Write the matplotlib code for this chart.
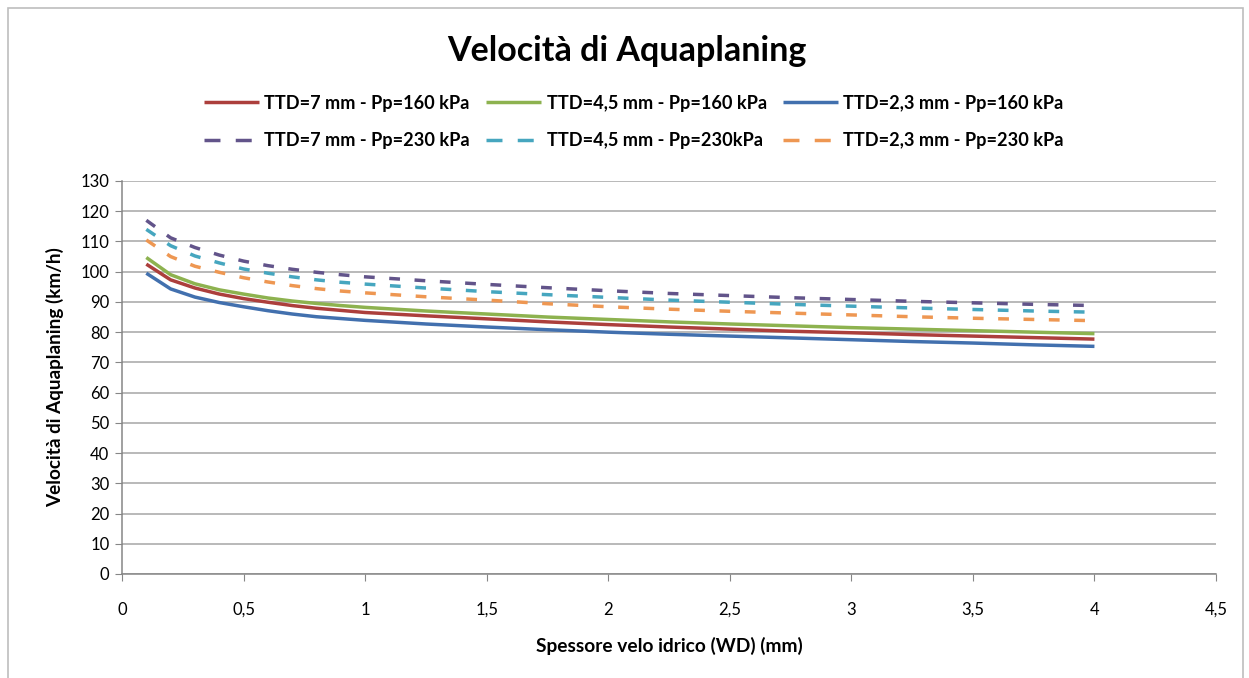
import matplotlib.pyplot as plt
from matplotlib.patches import Rectangle

plt.rcParams['font.family'] = ['Lato', 'DejaVu Sans']

# --- Data: water film thickness (mm) vs aquaplaning speed (km/h) ---
wd = [0.1, 0.2, 0.3, 0.4, 0.5, 0.6, 0.7, 0.8, 0.9, 1.0,
      1.25, 1.5, 1.75, 2.0, 2.25, 2.5, 2.75, 3.0, 3.25, 3.5, 3.75, 4.0]

v_7_160 = [102.5, 97.3, 94.6, 92.6, 91.1, 89.9, 88.8, 87.9, 87.2, 86.5,
           85.4, 84.4, 83.4, 82.5, 81.7, 81.0, 80.3, 79.8, 79.2, 78.7, 78.2, 77.7]
v_45_160 = [104.7, 99.0, 96.0, 94.0, 92.6, 91.3, 90.3, 89.5, 88.8, 88.2,
            87.0, 86.0, 85.0, 84.2, 83.4, 82.7, 82.1, 81.5, 81.0, 80.5, 80.0, 79.5]
v_23_160 = [99.5, 94.3, 91.6, 89.8, 88.4, 87.1, 86.0, 85.1, 84.5, 83.9,
            82.7, 81.7, 80.8, 80.0, 79.3, 78.7, 78.1, 77.5, 76.9, 76.4, 75.8, 75.3]
v_7_230 = [117.0, 111.2, 108.0, 105.5, 103.5, 102.0, 100.8, 99.8, 99.0, 98.3,
           97.0, 95.8, 94.7, 93.7, 92.8, 92.1, 91.4, 90.8, 90.2, 89.7, 89.2, 88.8]
v_45_230 = [114.0, 108.6, 105.2, 102.9, 100.9, 99.5, 98.3, 97.3, 96.5, 95.9,
            94.6, 93.4, 92.4, 91.5, 90.6, 89.9, 89.2, 88.6, 88.0, 87.5, 87.0, 86.6]
v_23_230 = [110.5, 105.0, 101.8, 99.8, 98.0, 96.6, 95.4, 94.4, 93.6, 93.0,
            91.7, 90.6, 89.4, 88.4, 87.6, 86.9, 86.3, 85.7, 85.1, 84.6, 84.2, 83.8]

labels = ['TTD=7 mm - Pp=160 kPa', 'TTD=4,5 mm - Pp=160 kPa', 'TTD=2,3 mm - Pp=160 kPa',
          'TTD=7 mm - Pp=230 kPa', 'TTD=4,5 mm - Pp=230kPa', 'TTD=2,3 mm - Pp=230 kPa']

x_ticks = [0, 0.5, 1, 1.5, 2, 2.5, 3, 3.5, 4, 4.5]
x_tick_labels = ['0', '0,5', '1', '1,5', '2', '2,5', '3', '3,5', '4', '4,5']
y_ticks = list(range(0, 131, 10))

# --- Styles ---
series = [
    (v_7_160, '#AC3F3C', '-'),
    (v_45_160, '#8DB24F', '-'),
    (v_23_160, '#4270AE', '-'),
    (v_7_230, '#62548A', '--'),
    (v_45_230, '#46A6BF', '--'),
    (v_23_230, '#EE9752', '--'),
]

fig = plt.figure(figsize=(12.49, 6.78), dpi=100)
ax = fig.add_axes([122 / 1249, 1 - 574 / 678, (1216 - 122) / 1249, (574 - 181) / 678])

# chart frame
fig.patches.append(Rectangle((8 / 1249, -0.05), (1243 - 8) / 1249, 1.05 - 8 / 678,
                             transform=fig.transFigure, fill=False,
                             edgecolor='#BEBEBE', linewidth=1.2))

handles = []
for values, color, ls in series:
    line, = ax.plot(wd, values, color=color, linewidth=2.5, linestyle=ls,
                    solid_capstyle='butt')
    if ls == '--':
        line.set_dashes((3.1, 4.2))
        line.set_dash_capstyle('butt')
    handles.append(line)

ax.set_xlim(0, 4.5)
ax.set_ylim(0, 130)
ax.set_xticks(x_ticks)
ax.set_xticklabels(x_tick_labels)
ax.set_yticks(y_ticks)

ax.yaxis.grid(True, color='#A6A6A6', linewidth=1.1)
ax.set_axisbelow(True)
for side in ['top', 'right']:
    ax.spines[side].set_visible(False)
for side in ['left', 'bottom']:
    ax.spines[side].set_color('#868686')
    ax.spines[side].set_linewidth(1.1)

ax.tick_params(axis='both', direction='out', length=5, color='#868686',
               labelsize=12, labelcolor='black')
ax.tick_params(axis='x', pad=15)
ax.tick_params(axis='y', pad=4)

ax.set_xlabel('Spessore velo idrico (WD) (mm)', fontsize=13.8, fontweight='bold', labelpad=14)
ax.set_ylabel('Velocità di Aquaplaning (km/h)', fontsize=13.6, fontweight='bold', labelpad=12)

fig.text(627 / 1249, 1 - 51 / 678, 'Velocità di Aquaplaning', ha='center', va='center',
         fontsize=24.5, fontweight='bold')

# legend: column-major order so that solid lines sit on the first row
order = [0, 3, 1, 4, 2, 5]
leg = fig.legend([handles[i] for i in order], [labels[i] for i in order],
                 loc='center', bbox_to_anchor=(634 / 1249, 1 - 122 / 678), ncol=3,
                 frameon=False, handlelength=3.0, handletextpad=0.3,
                 columnspacing=0.9, labelspacing=1.15,
                 prop={'weight': 'bold', 'size': 13.1})

# two clean dashes in the legend keys, leaving a gap before the text
for leg_line in leg.get_lines():
    if leg_line.get_linestyle() != '-':
        leg_line.set_dashes((4.6, 4.4))

fig.savefig('out.png', dpi=100)
